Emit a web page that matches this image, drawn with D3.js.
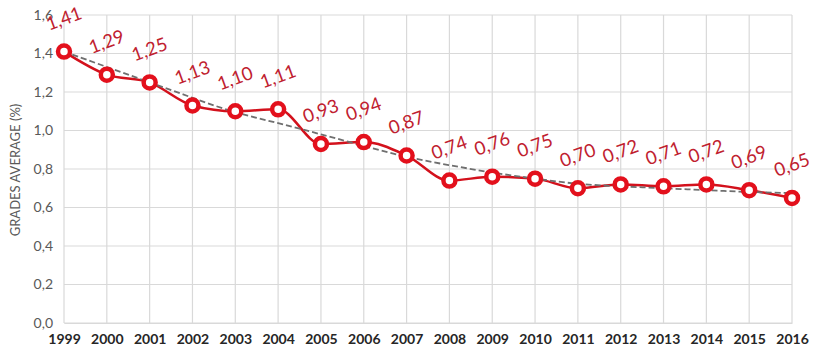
<!DOCTYPE html>
<html><head><meta charset="utf-8">
<script src="https://cdn.jsdelivr.net/npm/d3@7"></script>
<style>body{margin:0;background:#fff}svg{display:block}</style>
</head><body>
<svg id="c" width="819" height="358"></svg>
<script>
const years = ["1999","2000","2001","2002","2003","2004","2005","2006","2007","2008","2009","2010","2011","2012","2013","2014","2015","2016"];
const values = [1.41,1.29,1.25,1.13,1.10,1.11,0.93,0.94,0.87,0.74,0.76,0.75,0.70,0.72,0.71,0.72,0.69,0.65];
const trend = [1.41,1.33,1.25,1.17,1.09,1.04,0.98,0.92,0.86,0.82,0.78,0.75,0.72,0.71,0.70,0.69,0.68,0.675];
const yTicks = [0,0.2,0.4,0.6,0.8,1.0,1.2,1.4,1.6];
const yTitle = "GRADES AVERAGE (%)";

const svg = d3.select("#c");
const x = d3.scalePoint().domain(years).range([64, 792]);
const y = d3.scaleLinear().domain([0, 1.6]).range([323, 15]);
const fmt = v => d3.format(".1f")(v).replace(".", ",");
const fmt2 = v => d3.format(".2f")(v).replace(".", ",");
const FONT = "Lato, 'Open Sans', sans-serif";

// gridlines
svg.append("g").selectAll("line").data(yTicks).join("line")
  .attr("x1", 64).attr("x2", 792).attr("y1", d => y(d)).attr("y2", d => y(d))
  .attr("stroke", "#d9d9d9").attr("stroke-width", 1.2);
svg.append("g").selectAll("line").data(years).join("line")
  .attr("x1", d => x(d)).attr("x2", d => x(d)).attr("y1", y(1.6)).attr("y2", y(0))
  .attr("stroke", "#d9d9d9").attr("stroke-width", 1.2);

// axes
const yAxis = svg.append("g").attr("transform", "translate(64,0)")
  .call(d3.axisLeft(y).tickValues(yTicks).tickFormat(fmt).tickSize(0).tickPadding(11));
yAxis.select(".domain").remove();
yAxis.selectAll("text").attr("font-family", FONT).attr("font-size", 14).attr("fill", "#595959");

const xAxis = svg.append("g").attr("transform", "translate(0,323)")
  .call(d3.axisBottom(x).tickSize(0).tickPadding(11));
xAxis.select(".domain").attr("stroke", "#d9d9d9").attr("stroke-width", 1.2);
xAxis.selectAll("text").attr("font-family", FONT).attr("font-size", 14)
  .attr("font-weight", "bold").attr("fill", "#262626");

svg.append("text").attr("transform", "translate(20,170) rotate(-90)")
  .attr("text-anchor", "middle").attr("font-family", FONT)
  .attr("font-size", 13).attr("fill", "#595959").text(yTitle);

// data line
const data = years.map((yr, i) => ({yr, v: values[i], t: trend[i]}));
svg.append("path").datum(data)
  .attr("d", d3.line().x(d => x(d.yr)).y(d => y(d.v)).curve(d3.curveMonotoneX))
  .attr("fill", "none").attr("stroke", "#d3111c").attr("stroke-width", 2.5);

// trend line
svg.append("path").datum(data)
  .attr("d", d3.line().x(d => x(d.yr)).y(d => y(d.t)).curve(d3.curveBasis))
  .attr("fill", "none").attr("stroke", "#6f6f6f").attr("stroke-width", 1.8)
  .attr("stroke-dasharray", "6,3");

// markers
svg.append("g").selectAll("circle").data(data).join("circle")
  .attr("cx", d => x(d.yr)).attr("cy", d => y(d.v)).attr("r", 6)
  .attr("fill", "#fff").attr("stroke", "#e3101c").attr("stroke-width", 4.5);

// labels
svg.append("g").selectAll("text").data(data).join("text")
  .attr("transform", d => `translate(${x(d.yr) + 2},${y(d.v) - 27}) rotate(-20)`)
  .attr("text-anchor", "middle")
  .attr("font-family", FONT).attr("font-size", 18.5)
  .attr("fill", "#c0212f").text(d => fmt2(d.v));
</script>
</body></html>
